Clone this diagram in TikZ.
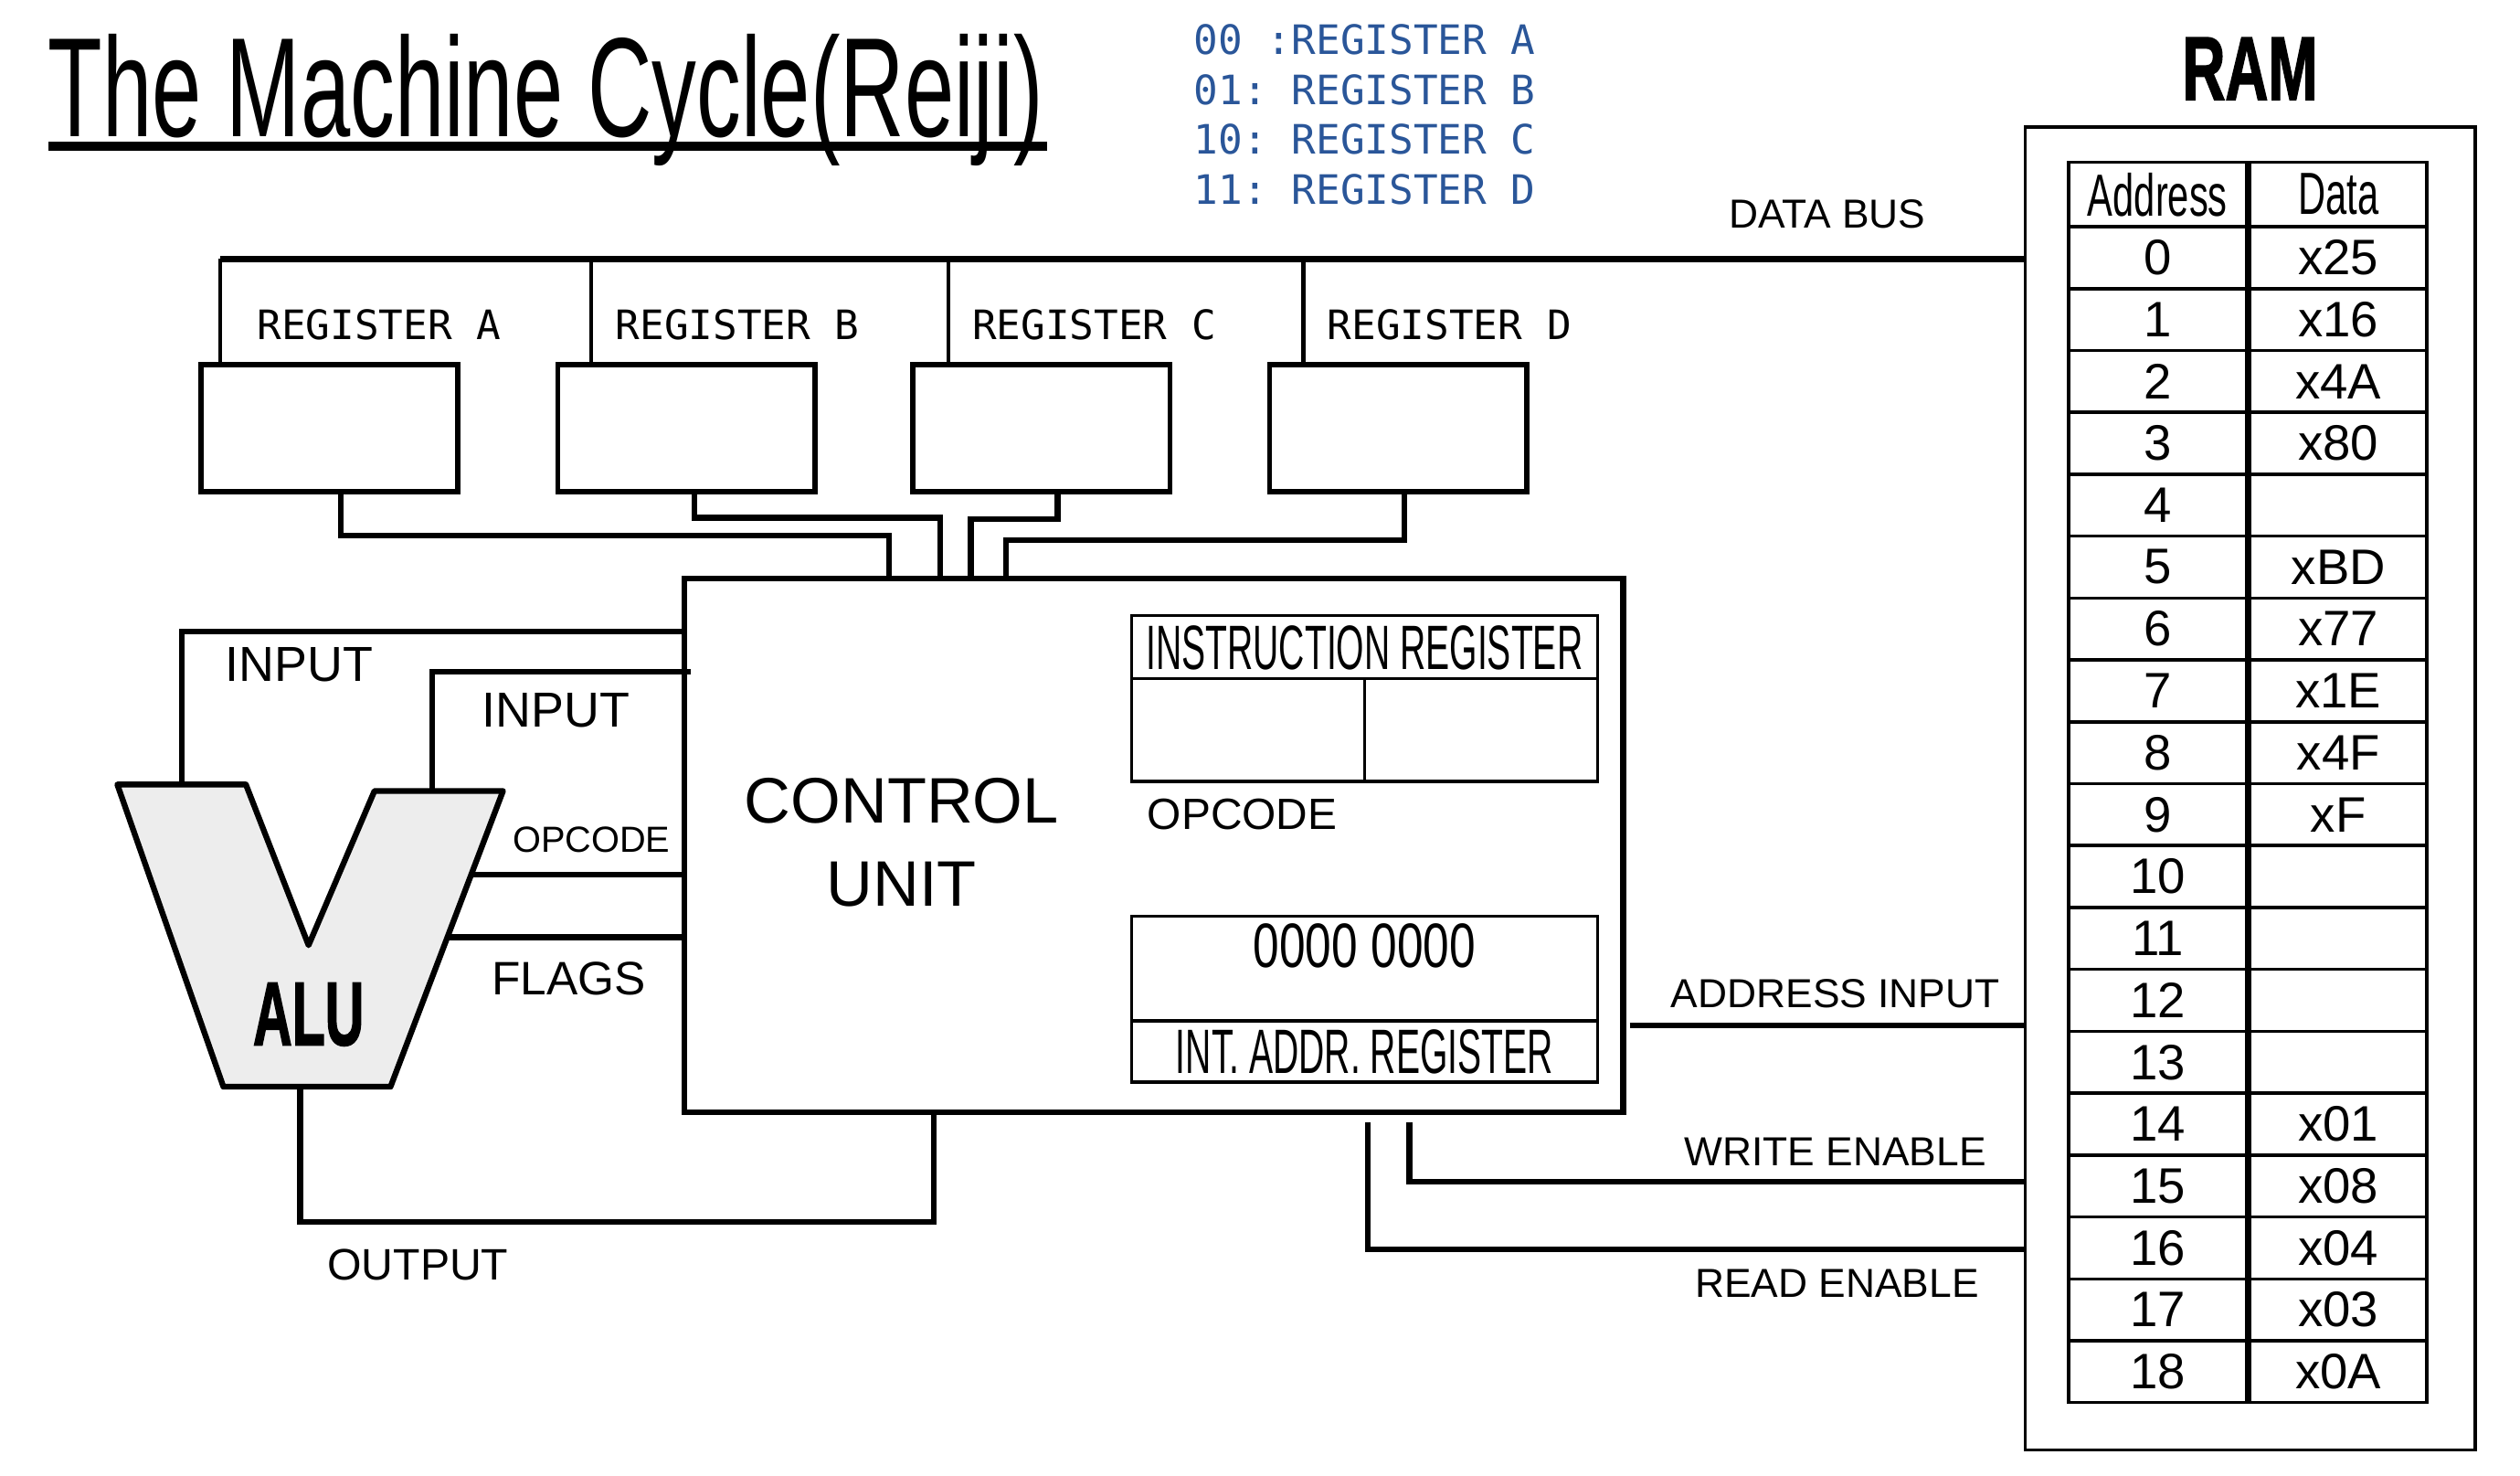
\documentclass[tikz,border=0pt]{standalone}
\usepackage{fontspec}
\usepackage{graphicx}
\usetikzlibrary{calc}
\setmainfont{Liberation Sans}
\newfontfamily\monof{DejaVu Sans Mono}
\newfontfamily\heavyf[FakeBold=2]{Liberation Sans}
\definecolor{regblue}{HTML}{2A5699}
\newcommand{\cnd}[2]{\scalebox{#1}[1]{#2}}
\frenchspacing
\begin{document}
\begin{tikzpicture}[x=0.5pt,y=-0.5pt,
 conn/.style={line width=1.8pt},
 bus/.style={line width=2pt},
 drop/.style={line width=1.2pt},
 box/.style={draw,inner sep=0pt,outer sep=0pt},
 regbox/.style={box,line width=1.6pt,minimum width=80pt,minimum height=39.5pt},
 inbox/.style={box,line width=1pt,minimum width=145pt,minimum height=51.5pt},
 cell/.style={box,line width=1pt,minimum height=19.25pt,font=\fontsize{15.5pt}{18pt}\selectfont},
 txt/.style={inner sep=0pt,outer sep=0pt,anchor=base},
 sig/.style={txt,font=\fontsize{12.6pt}{14pt}\selectfont},
 mono/.style={txt,anchor=base west,font=\fontsize{12.6pt}{14pt}\monof},
]
\useasboundingbox (0,0) rectangle (1568,918);

% title
\node[txt,anchor=base west,font=\fontsize{44pt}{48pt}\selectfont] (title) at (30,85) {\cnd{0.63}{The Machine Cycle(Reiji)}};
\draw[line width=3pt] ($(title.base west)+(0,6)$) -- ($(title.base east)+(2,6)$);

% legend
\node[mono,text=regblue] (leg0) at (743,34) {00 :REGISTER A};
\node[mono,text=regblue] (leg1) at (743,65) {01: REGISTER B};
\node[mono,text=regblue] (leg2) at (743,96) {10: REGISTER C};
\node[mono,text=regblue] (leg3) at (743,127) {11: REGISTER D};

% RAM
\node[txt,font=\fontsize{28pt}{30pt}\heavyf\bfseries] (ramlbl) at (1400,62) {\cnd{0.66}{RAM}};
\node[box,line width=1pt,minimum width=140pt,minimum height=411.5pt] (ram) at (1400,490.5) {};
\node[cell,minimum width=55.5pt,minimum height=20pt,font=\fontsize{18.5pt}{20pt}\selectfont] (haddr) at (1342.5,121) {\cnd{0.64}{Address}};
\node[cell,minimum width=55pt,minimum height=20pt,font=\fontsize{18.5pt}{20pt}\selectfont] (hdata) at (1455,121) {\cnd{0.64}{Data}};
\foreach \a/\d [count=\k from 0] in {0/x25,1/x16,2/x4A,3/x80,4/{},5/xBD,6/x77,7/x1E,8/x4F,9/xF,10/{},11/{},12/{},13/{},14/x01,15/x08,16/x04,17/x03,18/x0A}{
  \node[cell,minimum width=55.5pt] (a\k) at (1342.5,{141+(\k+0.5)*38.5}) {\a};
  \node[cell,minimum width=55pt] (d\k) at (1455,{141+(\k+0.5)*38.5}) {\d};
}

% registers
\node[regbox] (ra) at (205,266.5) {};
\node[regbox] (rb) at (427,266.5) {};
\node[regbox] (rc) at (648,266.5) {};
\node[regbox] (rd) at (870,266.5) {};
\node[mono] (la) at (160,211) {REGISTER A};
\node[mono] (lb) at (383,211) {REGISTER B};
\node[mono] (lc) at (605,211) {REGISTER C};
\node[mono] (ld) at (826,211) {REGISTER D};

% data bus
\draw[bus] ($(ra.north west)+(12,-66)$) -- ($(ram.north west)+(0,82)$);
\draw[drop] ($(ra.north west)+(12,-66)$) -- ($(ra.north west)+(12,0)$);
\draw[drop] ($(rb.north west)+(21,-66)$) -- ($(rb.north west)+(21,0)$);
\draw[drop] ($(rc.north west)+(22,-66)$) -- ($(rc.north west)+(22,0)$);
\draw[drop] ($(rd.north west)+(21,-66)$) -- ($(rd.north west)+(21,0)$);
\node[sig] (dbl) at (1137,142) {DATA BUS};

% control unit
\node[box,line width=1.8pt,minimum width=292pt,minimum height=166pt] (cu) at (718,526) {};
\node[inner sep=0pt,align=center,font=\fontsize{20pt}{26pt}\selectfont] (cul) at (561,524) {CONTROL\\UNIT};

\node[inbox] (ir) at (849,434.5) {};
\draw[line width=1pt] ($(ir.north west)+(0,39)$) -- ($(ir.north east)+(0,39)$);
\draw[line width=1pt] ($(ir.north)+(0,39)$) -- (ir.south);
\node[txt,font=\fontsize{19.5pt}{20pt}\selectfont] (irl) at (849,416.5) {\cnd{0.57}{INSTRUCTION REGISTER}};
\node[txt,anchor=base west,font=\fontsize{13.6pt}{14pt}\selectfont] (opl2) at (714,516) {OPCODE};

\node[inbox] (iar) at (849,621.5) {};
\draw[line width=1pt] ($(iar.south west)+(0,-38)$) -- ($(iar.south east)+(0,-38)$);
\node[txt,font=\fontsize{19.5pt}{20pt}\selectfont] (iarv) at (849,602) {\cnd{0.75}{0000 0000}};
\node[txt,font=\fontsize{19.5pt}{20pt}\selectfont] (iarl) at (849,668) {\cnd{0.57}{INT. ADDR. REGISTER}};

% ALU
\coordinate (atl) at (73,488);
\coordinate (aitl) at (153,488);
\coordinate (av) at (192,588);
\coordinate (aitr) at (233,492);
\coordinate (atr) at (313,492);
\coordinate (abr) at (243,676);
\coordinate (abl) at (139,676);
\draw[line width=1.8pt,fill=gray!14,line join=round] (atl) -- (aitl) -- (av) -- (aitr) -- (atr) -- (abr) -- (abl) -- cycle;
\node[txt,font=\fontsize{28pt}{30pt}\heavyf\bfseries] (alul) at (192,650) {\cnd{0.6}{ALU}};
\coordinate (aluIn1) at ($(atl)!0.5!(aitl)$);
\coordinate (aluIn2) at ($(aitr)!0.45!(atr)$);
\coordinate (aluOp) at ($(atr)!0.283!(abr)$);
\coordinate (aluFl) at ($(atr)!0.495!(abr)$);
\coordinate (aluOut) at ($(abl)!0.46!(abr)$);

% ALU connectors
\draw[conn] ($(cu.north west)+(0,33)$) -| (aluIn1);
\draw[conn] ($(cu.north west)+(4,58)$) -| (aluIn2);
\draw[conn] (aluOp) -- (aluOp -| cu.west);
\draw[conn] (aluFl) -- (aluFl -| cu.west);
\draw[conn] (aluOut) |- ($(cu.south west)+(155,68)$) -- ($(cu.south west)+(155,0)$);
\node[txt,font=\fontsize{15.3pt}{16pt}\selectfont] (in1l) at (186,424) {INPUT};
\node[txt,font=\fontsize{15.3pt}{16pt}\selectfont] (in2l) at (346,452) {INPUT};
\node[txt,font=\fontsize{11.3pt}{12pt}\selectfont] (opl) at (368,530) {OPCODE};
\node[txt,font=\fontsize{14.6pt}{16pt}\selectfont] (fll) at (354,619) {FLAGS};
\node[txt,font=\fontsize{13.7pt}{16pt}\selectfont] (outl) at (260,796) {OUTPUT};

% register connectors
\draw[conn] ($(ra.south)+(7,0)$) |- ($(cu.north west)+(127,-27)$) -- ($(cu.north west)+(127,0)$);
\draw[conn] ($(rb.south)+(5,0)$) |- ($(cu.north west)+(159,-38)$) -- ($(cu.north west)+(159,0)$);
\draw[conn] ($(rc.south)+(10,0)$) |- ($(cu.north west)+(178,-37)$) -- ($(cu.north west)+(178,0)$);
\draw[conn] ($(rd.south)+(4,0)$) |- ($(cu.north west)+(200,-24)$) -- ($(cu.north west)+(200,0)$);

% RAM connectors
\coordinate (cuA) at ($(cu.south east)+(4,-54)$);
\draw[conn] (cuA) -- (cuA -| ram.west);
\draw[conn] ($(cu.south east)+(-133,6)$) |- ($(ram.south west)+(0,-167)$);
\draw[conn] ($(cu.south east)+(-159,6)$) |- ($(ram.south west)+(0,-125)$);
\node[sig] (adl) at (1142,627) {ADDRESS INPUT};
\node[sig] (wel) at (1142,725) {WRITE ENABLE};
\node[sig] (rel) at (1143,807) {READ ENABLE};
\end{tikzpicture}
\end{document}
